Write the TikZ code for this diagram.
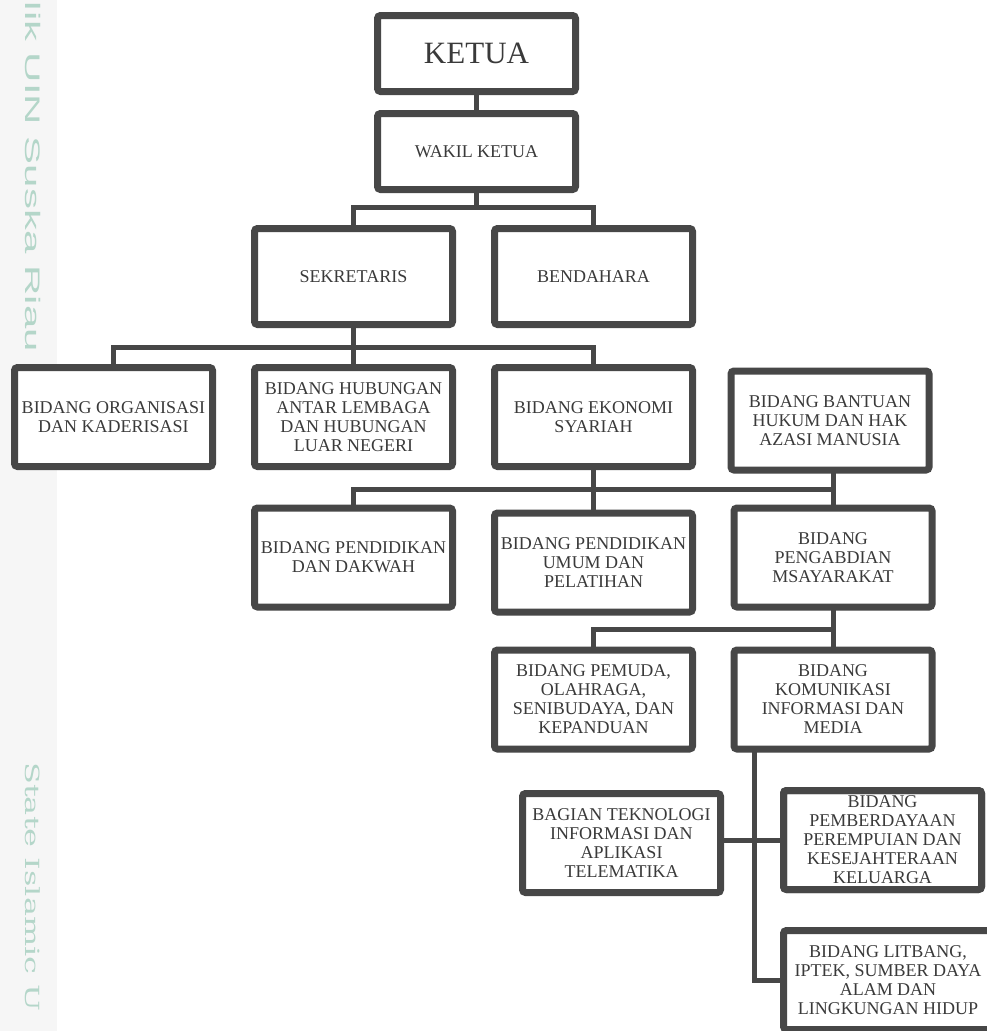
\documentclass[tikz,border=0pt]{standalone}
\usepackage{fontspec}
\usepackage{graphicx}
\setmainfont{Liberation Serif}
\newfontfamily\wmsans{Liberation Sans}
\newfontfamily\wmserif{DejaVu Serif}
\usetikzlibrary{shadows,backgrounds}
\definecolor{boxc}{HTML}{474747}
\definecolor{txtc}{HTML}{3A3A3A}
\definecolor{wmc}{HTML}{B4D6C9}
\definecolor{stripc}{HTML}{F6F6F6}
\begin{document}
\begin{tikzpicture}[x=1pt,y=-1pt,
  orgbox/.style={draw=boxc, line width=7pt, rounded corners=3pt, fill=white,
    minimum width=198pt, minimum height=99pt, inner sep=0pt, outer sep=0pt,
    align=center, text=txtc, font=\fontsize{18}{19}\selectfont,
    drop shadow={shadow xshift=0.5pt, shadow yshift=-3pt, opacity=0.2, fill=black}},
  boxline/.style={draw=boxc, line width=7pt, rounded corners=3pt},
  conn/.style={draw=boxc, line width=5pt},
  wmtext/.style={inner sep=0pt, text=wmc, rotate=-90}
]
\useasboundingbox (0,0) rectangle (987,1031);
\clip (0,0) rectangle (987,1031);

% boxes
\node[orgbox, minimum height=76pt, font=\fontsize{31}{33}\selectfont] (ketua) at (476.5,53.5) {KETUA};
\node[orgbox, minimum height=76pt] (wakil) at (476.5,151.5) {WAKIL KETUA};
\node[orgbox, minimum height=96pt] (sek) at (353.5,276.5) {SEKRETARIS};
\node[orgbox, minimum height=96pt] (ben) at (593.5,276.5) {BENDAHARA};
\node[orgbox] (org) at (113.5,417) {BIDANG ORGANISASI\\DAN KADERISASI};
\node[orgbox] (hub) at (353.5,417) {BIDANG HUBUNGAN\\ANTAR LEMBAGA\\DAN HUBUNGAN\\LUAR NEGERI};
\node[orgbox] (eko) at (593.5,417) {BIDANG EKONOMI\\SYARIAH};
\node[orgbox] (ban) at (830,420.5) {BIDANG BANTUAN\\HUKUM DAN HAK\\AZASI MANUSIA};
\node[orgbox] (dak) at (353.5,557.5) {BIDANG PENDIDIKAN\\DAN DAKWAH};
\node[orgbox] (umum) at (593.5,562.5) {BIDANG PENDIDIKAN\\UMUM DAN\\PELATIHAN};
\node[orgbox] (pengab) at (833,557.5) {BIDANG\\PENGABDIAN\\MSAYARAKAT};
\node[orgbox] (pemuda) at (593.5,699.5) {BIDANG PEMUDA,\\OLAHRAGA,\\SENIBUDAYA, DAN\\KEPANDUAN};
\node[orgbox] (komu) at (833,699.5) {BIDANG\\KOMUNIKASI\\INFORMASI DAN\\MEDIA};
\node[orgbox] (tek) at (621.5,843) {BAGIAN TEKNOLOGI\\INFORMASI DAN\\APLIKASI\\TELEMATIKA};
\node[orgbox] (pemb) at (882.5,840) {};
\node[inner sep=0pt, align=center, text=txtc, font=\fontsize{18}{19}\selectfont] (pembtxt) at (pemb)
  {BIDANG\\PEMBERDAYAAN\\PEREMPUIAN DAN\\KESEJAHTERAAN\\KELUARGA};
\draw[boxline] (pemb.north west) rectangle (pemb.south east);
\node[orgbox, minimum width=209pt] (lit) at (888,980) {BIDANG LITBANG,\\IPTEK, SUMBER DAYA\\ALAM DAN\\LINGKUNGAN HIDUP};

% background: strip, watermark text, connectors
\begin{pgfonlayer}{background}
\fill[stripc] (0,0) rectangle (57,1031);
\node[wmtext, anchor=base east, font=\wmsans\fontsize{21}{21}\selectfont] (wma) at (25,352)
  {\scalebox{2}[1]{lik UIN Suska Riau}};
\node[wmtext, anchor=base west, font=\wmserif\fontsize{19.5}{19.5}\selectfont] (wmb) at (25,762)
  {\scalebox{1.64}[1]{State Islamic U}};

\coordinate (b1) at (476.5,207);
\coordinate (b2) at (353.5,347);
\coordinate (b3) at (593.5,489);
\coordinate (b4) at (833,629);
\coordinate (k1) at (754,740);
\coordinate (k2) at (754,980);

\draw[conn] (ketua) -- (wakil);
\draw[conn] (wakil) -- (b1);
\draw[conn] (sek) |- (b1);
\draw[conn] (ben) |- (b1);
\draw[conn] (sek) -- (hub);
\draw[conn] (org) |- (b2);
\draw[conn] (eko) |- (b2);
\draw[conn] (eko) -- (umum);
\draw[conn] (dak) |- (b3);
\draw[conn] (pengab) |- (b3);
\draw[conn] (pengab) -- (pengab |- ban);
\draw[conn] (pengab) -- (komu);
\draw[conn] (pemuda) |- (b4);
\draw[conn] (k1) -- (k2) -- (lit);
\draw[conn] (tek.center |- pemb) -- (pemb);
\end{pgfonlayer}
\end{tikzpicture}
\end{document}
